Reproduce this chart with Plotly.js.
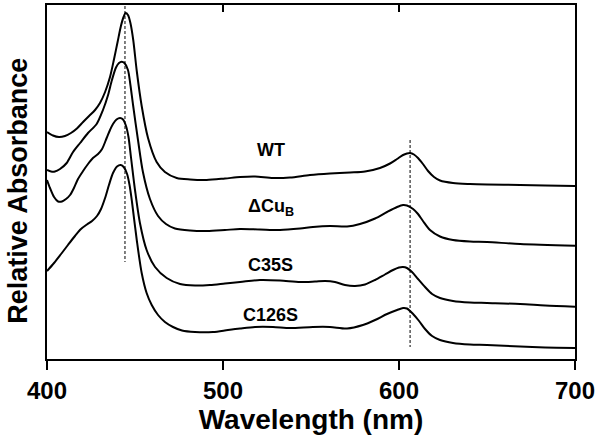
<!DOCTYPE html>
<html>
<head>
<meta charset="utf-8">
<script src="https://cdn.plot.ly/plotly-3.0.1.min.js"></script>
<style>html,body{margin:0;padding:0;background:#fff;}#chart{width:600px;height:438px;}</style>
</head>
<body>
<div id="chart"></div>
<script>
// Wavelength (nm) and relative absorbance (arbitrary, vertically offset units)
const wtWavelength = [400,403.4,406.8,410.2,413.6,417.0,420.5,423.9,427.3,430.1,433.0,435.8,438.1,440.1,442.0,443.5,444.7,446.0,447.4,449.0,451.0,453.8,457.4,462.3,467.0,473.7,481.3,490.7,501.1,509.7,518.2,528.4,538.1,549.4,560.8,572.2,580.7,589.2,594.9,598.9,602.3,604.5,606.3,608.5,610.8,613.6,616.5,619.9,623.3,630.7,640.3,650.0,668.8,683.0,700];
const wtAbs        = [2.27,2.235,2.22,2.23,2.26,2.305,2.37,2.43,2.49,2.56,2.67,2.82,3.00,3.17,3.33,3.42,3.46,3.44,3.36,3.19,2.88,2.53,2.21,1.97,1.87,1.81,1.795,1.79,1.805,1.82,1.825,1.81,1.815,1.84,1.855,1.865,1.875,1.91,1.955,2.00,2.04,2.055,2.06,2.045,2.01,1.95,1.88,1.82,1.785,1.76,1.75,1.745,1.74,1.735,1.73];

const dcuWavelength = [400,402.3,404.5,407.4,411.2,414.8,418.8,423.3,428.2,431.8,434.7,436.9,439.2,440.9,442.4,444.0,446.0,447.4,448.9,451.7,454.5,458.5,463.1,467.6,472.7,481.3,490.9,501.1,509.7,521.0,532.4,543.8,551.1,560.8,570.5,577.8,586.4,593.2,598.9,602.3,604.5,608.0,610.8,613.6,617.6,623.3,630.7,640.3,650.0,668.8,700];
const dcuAbs        = [1.89,1.875,1.875,1.90,1.96,2.07,2.16,2.26,2.35,2.49,2.64,2.79,2.915,2.96,2.973,2.96,2.89,2.74,2.54,2.19,1.87,1.60,1.43,1.35,1.305,1.285,1.28,1.29,1.30,1.295,1.29,1.305,1.32,1.33,1.325,1.35,1.405,1.47,1.52,1.54,1.535,1.50,1.45,1.38,1.29,1.225,1.19,1.175,1.17,1.15,1.133];

const c35sWavelength = [400,401.7,404.0,406.3,408.5,410.8,413.1,415.3,417.6,420.5,423.3,426.1,429.0,431.3,433.9,435.8,437.5,439.5,441.5,443.2,444.9,446.3,447.7,450.0,452.8,456.6,461.4,468.0,475.6,484.1,492.6,501.1,509.7,521.0,532.4,543.8,552.3,558.0,563.6,569.3,575.0,580.7,586.4,592.0,596.6,600.0,602.3,604.5,607.4,610.8,614.8,618.8,623.3,630.7,640.3,650.0,668.8,683.0,700];
const c35sAbs        = [1.79,1.71,1.62,1.575,1.575,1.60,1.64,1.71,1.80,1.88,1.95,2.01,2.05,2.10,2.21,2.29,2.35,2.395,2.41,2.395,2.33,2.22,2.02,1.69,1.36,1.09,0.92,0.81,0.75,0.735,0.74,0.755,0.77,0.79,0.785,0.77,0.775,0.78,0.77,0.74,0.73,0.745,0.79,0.845,0.89,0.915,0.92,0.91,0.87,0.80,0.72,0.65,0.61,0.58,0.565,0.56,0.55,0.535,0.523];

const c126sWavelength = [400,404.0,408.0,411.9,415.9,419.3,422.7,425.6,428.4,430.7,433.0,435.2,437.5,439.8,441.9,443.8,445.5,446.9,448.3,451.0,453.8,456.6,459.5,463.1,467.0,471.6,476.7,484.1,494.3,502.8,509.7,518.2,528.4,538.1,551.1,560.8,570.5,579.5,586.4,593.2,598.9,602.3,604.5,608.0,611.4,614.8,618.8,623.3,630.7,640.3,650.0,668.8,683.0,700];
const c126sAbs        = [0.88,0.96,1.05,1.14,1.23,1.30,1.345,1.38,1.43,1.50,1.61,1.74,1.86,1.925,1.94,1.915,1.85,1.74,1.57,1.19,0.86,0.66,0.54,0.44,0.37,0.32,0.285,0.27,0.27,0.29,0.305,0.32,0.32,0.31,0.32,0.32,0.305,0.34,0.39,0.45,0.49,0.51,0.505,0.45,0.38,0.30,0.23,0.19,0.16,0.145,0.14,0.125,0.115,0.11];

// Reference (dashed) wavelength markers and their vertical extents
const soretLineX = [444.3, 444.3];
const soretLineY = [3.53, 0.97];
const alphaLineX = [606.3, 606.3];
const alphaLineY = [2.19, 0.12];

const sampleLabels = ['WT', 'ΔCu<sub>B</sub>', 'C35S', 'C126S'];
const tickValues = [400, 500, 600, 700];
const tickLabels = ['400', '500', '600', '700'];

const FONT = 'Arial, "Liberation Sans", sans-serif';
const curveLine = {color: '#000', width: 2, shape: 'spline', smoothing: 0.8};
const dashLine = {color: '#000', width: 1, dash: '3px,2px'};

const traces = [
  {x: wtWavelength, y: wtAbs, mode: 'lines', line: curveLine, hoverinfo: 'skip'},
  {x: dcuWavelength, y: dcuAbs, mode: 'lines', line: curveLine, hoverinfo: 'skip'},
  {x: c35sWavelength, y: c35sAbs, mode: 'lines', line: curveLine, hoverinfo: 'skip'},
  {x: c126sWavelength, y: c126sAbs, mode: 'lines', line: curveLine, hoverinfo: 'skip'},
  {x: soretLineX, y: soretLineY, xaxis: 'x2', mode: 'lines', line: dashLine, hoverinfo: 'skip'},
  {x: alphaLineX, y: alphaLineY, xaxis: 'x2', mode: 'lines', line: dashLine, hoverinfo: 'skip'}
];

const labelY = [2.09, 1.52, 0.94, 0.44];
const annotations = sampleLabels.map((t, i) => ({
  text: t, x: 527, y: labelY[i], xref: 'x', yref: 'y', showarrow: false,
  font: {family: FONT, size: 18, color: '#000', weight: 'bold'}
}));
annotations.push({
  text: 'Relative Absorbance', textangle: -90, showarrow: false,
  xref: 'paper', yref: 'paper', x: -0.055, y: 0.475, xanchor: 'center', yanchor: 'middle',
  font: {family: FONT, size: 27, color: '#000', weight: 'bold'}
});

const layout = {
  width: 600, height: 438,
  margin: {l: 47, r: 25, t: 5, b: 79},
  paper_bgcolor: '#fff', plot_bgcolor: '#fff',
  showlegend: false,
  font: {family: FONT, color: '#000'},
  xaxis: {
    range: [400, 700], tickvals: tickValues, ticktext: tickLabels,
    ticks: 'outside', ticklen: 9, tickwidth: 2, tickcolor: '#000',
    showline: true, mirror: true, linewidth: 2, linecolor: '#000',
    showgrid: false, zeroline: false,
    tickfont: {family: FONT, size: 24, color: '#000', weight: 'bold'},
    title: {text: 'Wavelength (nm)', standoff: 6, font: {family: FONT, size: 28, color: '#000', weight: 'bold'}}
  },
  xaxis2: {
    range: [400, 700], overlaying: 'x', side: 'top', anchor: 'y',
    tickvals: tickValues, ticks: 'inside', ticklen: 7, tickwidth: 2, tickcolor: '#000',
    showticklabels: false, showline: true, linewidth: 2, linecolor: '#000',
    showgrid: false, zeroline: false
  },
  yaxis: {
    range: [0, 3.54], showticklabels: false, ticks: '',
    showline: true, mirror: true, linewidth: 2, linecolor: '#000',
    showgrid: false, zeroline: false
  },
  annotations: annotations
};

Plotly.newPlot('chart', traces, layout, {displayModeBar: false, staticPlot: true});
</script>
</body>
</html>
